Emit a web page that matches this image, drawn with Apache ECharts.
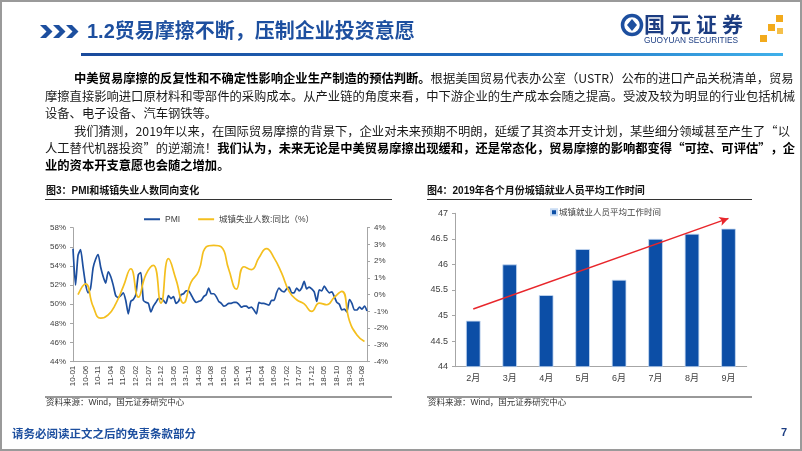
<!DOCTYPE html>
<html><head><meta charset="utf-8">
<script src="https://cdn.jsdelivr.net/npm/echarts@6/dist/echarts.min.js"></script>
<style>html,body{margin:0;padding:0;background:#fff;}#c{width:802px;height:451px;}</style>
</head><body><div id="c"></div>
<script>
// ---------- data ----------
const pmi = [
  55.8,52.0,55.1,55.7,53.9,52.1,51.2,51.7,53.8,54.7,55.2,53.9,
  52.9,52.2,53.4,52.9,52.0,50.9,50.7,50.9,51.2,50.4,49.0,50.3,
  50.5,51.0,53.1,53.3,50.4,50.2,50.1,49.2,49.8,50.2,50.6,50.6,
  50.4,50.1,50.9,50.6,50.8,50.1,50.3,51.0,51.1,51.4,51.4,51.0,
  50.5,50.2,50.3,50.4,50.8,51.0,51.7,51.1,51.1,50.8,50.3,50.1,
  49.8,49.9,50.1,50.1,50.2,50.2,50.0,49.7,49.8,49.8,49.6,49.7,
  49.4,49.0,50.2,50.1,50.1,50.0,49.9,50.4,50.4,51.2,51.7,51.4,
  51.3,51.6,51.8,51.2,51.2,51.7,51.4,51.7,52.4,51.6,51.8,51.6,
  51.3,50.3,51.5,51.4,51.9,51.5,51.2,51.3,50.8,50.2,50.0,49.4,
  49.5,49.2,50.5,50.1,49.4,49.4,49.7,49.5,49.8,49.3
];
// quarterly (Mar, Jun, Sep, Dec) 2010Q1 .. 2019Q3
const unempQuarterly = [
  0.0, 0.65, -0.7, -1.4,
  -1.2, -0.55, 0.48, 1.55,
  -0.15, 1.2, 1.75, -0.5,
  2.15, 0.9, -0.5, 0.75,
  1.4, 2.85, 2.95, 2.85,
  1.5, 0.33, 1.67, 1.5,
  2.2, 2.75, 2.2, 1.3,
  0.2, -0.3, -0.55, -1.0,
  -0.5, -0.6, -0.15, 0.2,
  -1.55, -2.4, -2.8
];
const barCats = ['2月','3月','4月','5月','6月','7月','8月','9月'];
const barVals = [44.9, 46.0, 45.4, 46.3, 45.7, 46.5, 46.6, 46.7];
const trendStart = 45.13;
const trendEnd = 46.9;

const months = [];
for (let y = 10; y <= 19; y++) {
  for (let m = 1; m <= 12; m++) {
    if (y === 19 && m > 10) break;
    months.push(y + '-' + String(m).padStart(2, '0'));
  }
}
const unempMonthly = months.map(() => null);
unempQuarterly.forEach((v, i) => { unempMonthly[i * 3 + 2] = v; });

// ---------- helpers ----------
const CJK = '"Noto Sans CJK SC", sans-serif';
const LAT = '"Liberation Sans", "Noto Sans CJK SC", sans-serif';
const BLUE = '#1d4f9f';
const BODY = 12.3;
function txt(x, y, text, st) {
  return { type: 'text', x: x, y: y, silent: true,
    style: Object.assign({ text: text, fill: '#1a1a1a', fontSize: BODY, fontFamily: CJK,
      textVerticalAlign: 'middle', verticalAlign: 'middle' }, st || {}) };
}
const richBody = { b: { fontWeight: 'bold', fontSize: BODY, fontFamily: CJK, fill: '#000' } };
function line(x1, y1, x2, y2, color, w) {
  return { type: 'line', silent: true, shape: { x1: x1, y1: y1, x2: x2, y2: y2 },
    style: { stroke: color, lineWidth: w } };
}
function chevron(x) {
  return { type: 'polygon', silent: true,
    shape: { points: [[x, 25], [x + 6, 25], [x + 12.5, 31.5], [x + 6, 38], [x, 38], [x + 6.5, 31.5]] },
    style: { fill: BLUE } };
}

const graphics = [
  { type: 'rect', silent: true, shape: { x: 1, y: 1, width: 800, height: 449 },
    style: { fill: 'none', stroke: '#9a9a9a', lineWidth: 2 } },
  chevron(40), chevron(53), chevron(66),
  txt(87, 32, '1.2贸易摩擦不断，压制企业投资意愿', { fill: BLUE, fontSize: 20, fontWeight: 'bold', fontFamily: LAT }),
  { type: 'rect', silent: true, shape: { x: 81, y: 53, width: 702, height: 3 },
    style: { fill: { type: 'linear', x: 0, y: 0, x2: 1, y2: 0,
      colorStops: [{ offset: 0, color: '#1a4a9b' }, { offset: 0.6, color: '#1f6cbf' }, { offset: 1, color: '#3fb0ea' }] } } },
  // logo
  { type: 'circle', silent: true, shape: { cx: 632, cy: 25, r: 9.5 }, style: { fill: 'none', stroke: BLUE, lineWidth: 3.5 } },
  { type: 'polygon', silent: true, shape: { points: [[632, 19], [637, 25], [632, 31], [627, 25]] }, style: { fill: BLUE } },
  txt(644, 24, '国', { fontSize: 21, fontWeight: 'bold', fill: '#1c3d82' }),
  txt(670, 24, '元', { fontSize: 21, fontWeight: 'bold', fill: '#1c3d82' }),
  txt(696, 24, '证', { fontSize: 21, fontWeight: 'bold', fill: '#1c3d82' }),
  txt(722, 24, '券', { fontSize: 21, fontWeight: 'bold', fill: '#1c3d82' }),
  txt(644, 40.5, 'GUOYUAN SECURITIES', { fontSize: 8.3, fill: '#1c3d82', fontFamily: LAT }),
  { type: 'rect', silent: true, shape: { x: 776, y: 15, width: 7, height: 7 }, style: { fill: '#f2aa1c' } },
  { type: 'rect', silent: true, shape: { x: 768, y: 24, width: 7, height: 7 }, style: { fill: '#f2aa1c' } },
  { type: 'rect', silent: true, shape: { x: 777, y: 28, width: 6, height: 6 }, style: { fill: '#f5c04a' } },
  { type: 'rect', silent: true, shape: { x: 760, y: 35, width: 7, height: 7 }, style: { fill: '#f2aa1c' } },
  // body text
  txt(74, 78, '{b|中美贸易摩擦的反复性和不确定性影响企业生产制造的预估判断。}根据美国贸易代表办公室（USTR）公布的进口产品关税清单，贸易', { rich: richBody }),
  txt(45, 96, '摩擦直接影响进口原材料和零部件的采购成本。从产业链的角度来看，中下游企业的生产成本会随之提高。受波及较为明显的行业包括机械'),
  txt(45, 113, '设备、电子设备、汽车钢铁等。'),
  txt(74, 131, '我们猜测，2019年以来，在国际贸易摩擦的背景下，企业对未来预期不明朗，延缓了其资本开支计划，某些细分领域甚至产生了“以'),
  txt(45, 148, '人工替代机器投资”的逆潮流！{b|我们认为，未来无论是中美贸易摩擦出现缓和，还是常态化，贸易摩擦的影响都变得“可控、可评估”，企}', { rich: richBody }),
  txt(45, 165, '{b|业的资本开支意愿也会随之增加。}', { rich: richBody }),
  // chart titles / rules / sources
  txt(46, 191, '图3：PMI和城镇失业人数同向变化', { fontSize: 10, fontWeight: 'bold', fontFamily: LAT, fill: '#111' }),
  line(45, 199.5, 392, 199.5, '#333', 1),
  txt(427, 191, '图4：2019年各个月份城镇就业人员平均工作时间', { fontSize: 10, fontWeight: 'bold', fontFamily: LAT, fill: '#111' }),
  line(427, 199.5, 752, 199.5, '#333', 1),
  line(45, 397, 392, 397, '#333', 1),
  line(427, 397, 752, 397, '#333', 1),
  txt(46, 403, '资料来源：Wind，国元证券研究中心', { fontSize: 8.5, fontFamily: LAT, fill: '#333' }),
  txt(428, 403, '资料来源：Wind，国元证券研究中心', { fontSize: 8.5, fontFamily: LAT, fill: '#333' }),
  // footer
  txt(12, 434, '请务必阅读正文之后的免责条款部分', { fontSize: 11.5, fontWeight: 'bold', fill: BLUE }),
  txt(781, 433, '7', { fontSize: 11, fontWeight: 'bold', fill: '#1c3d82', fontFamily: LAT })
];

const axisLabelL = { fontSize: 8, color: '#404040', fontFamily: LAT };
const option = {
  animation: false,
  backgroundColor: '#fff',
  textStyle: { fontFamily: LAT },
  graphic: { elements: graphics },
  legend: [
    { data: ['PMI', '城镇失业人数:同比（%）'], left: 139, top: 210, icon: 'rect',
      itemWidth: 16, itemHeight: 2, itemGap: 18,
      textStyle: { fontSize: 8.5, color: '#404040', fontFamily: LAT } },
    { data: ['城镇就业人员平均工作时间'], left: 545, top: 203, icon: 'rect',
      itemWidth: 6, itemHeight: 6, itemGap: 4,
      textStyle: { fontSize: 8.5, color: '#404040', fontFamily: LAT, padding: [0, 0, 0, -3] } }
  ],
  grid: [
    { left: 73, top: 227.7, width: 294, height: 134 },
    { left: 455, top: 213.3, width: 291.7, height: 153.4 }
  ],
  xAxis: [
    { type: 'category', gridIndex: 0, data: months, boundaryGap: false,
      axisLine: { onZero: false, lineStyle: { color: '#a6a6a6' } }, axisTick: { show: false },
      axisLabel: Object.assign({ rotate: 90, interval: 4, margin: 4 }, axisLabelL) },
    { type: 'category', gridIndex: 1, data: barCats,
      axisLine: { onZero: false, lineStyle: { color: '#a6a6a6' } }, axisTick: { show: false },
      axisLabel: { fontSize: 9, color: '#404040', margin: 7, fontFamily: LAT } }
  ],
  yAxis: [
    { type: 'value', gridIndex: 0, min: 44, max: 58, interval: 2,
      axisLine: { show: true, lineStyle: { color: '#a6a6a6' } },
      axisTick: { show: true, length: 3, lineStyle: { color: '#a6a6a6' } },
      splitLine: { show: false },
      axisLabel: Object.assign({ formatter: '{value}%', margin: 7 }, axisLabelL) },
    { type: 'value', gridIndex: 0, position: 'right', min: -4, max: 4, interval: 1,
      axisLine: { show: true, lineStyle: { color: '#a6a6a6' } },
      axisTick: { show: true, length: 3, lineStyle: { color: '#a6a6a6' } },
      splitLine: { show: false },
      axisLabel: Object.assign({ formatter: '{value}%', margin: 7 }, axisLabelL) },
    { type: 'value', gridIndex: 1, min: 44, max: 47, interval: 0.5,
      axisLine: { show: true, lineStyle: { color: '#a6a6a6' } },
      axisTick: { show: true, length: 3, lineStyle: { color: '#a6a6a6' } },
      splitLine: { show: false },
      axisLabel: { fontSize: 9, color: '#404040', margin: 7, fontFamily: LAT } }
  ],
  series: [
    { name: 'PMI', type: 'line', xAxisIndex: 0, yAxisIndex: 0, data: pmi,
      showSymbol: false, smooth: 0.2, color: '#1d4f9f',
      lineStyle: { color: '#1d4f9f', width: 1.7 } },
    { name: '城镇失业人数:同比（%）', type: 'line', xAxisIndex: 0, yAxisIndex: 1, data: unempMonthly,
      connectNulls: true, showSymbol: false, smooth: true, color: '#f4bf1e',
      lineStyle: { color: '#f4bf1e', width: 1.7 } },
    { name: '城镇就业人员平均工作时间', type: 'bar', xAxisIndex: 1, yAxisIndex: 2, data: barVals,
      barWidth: '40%', color: '#0c4ea6',
      itemStyle: { color: '#0c4ea6', borderColor: '#c8dbf3', borderWidth: 0.8 },
      markLine: { silent: true, symbol: ['none', 'arrow'], symbolSize: [7, 9],
        lineStyle: { color: '#e8262b', width: 1.5, type: 'solid' }, label: { show: false },
        data: [[{ coord: [0, trendStart] }, { coord: [7, trendEnd] }]] } }
  ]
};
const chart = echarts.init(document.getElementById('c'), null, { renderer: 'canvas' });
chart.setOption(option);
</script>
</body></html>
